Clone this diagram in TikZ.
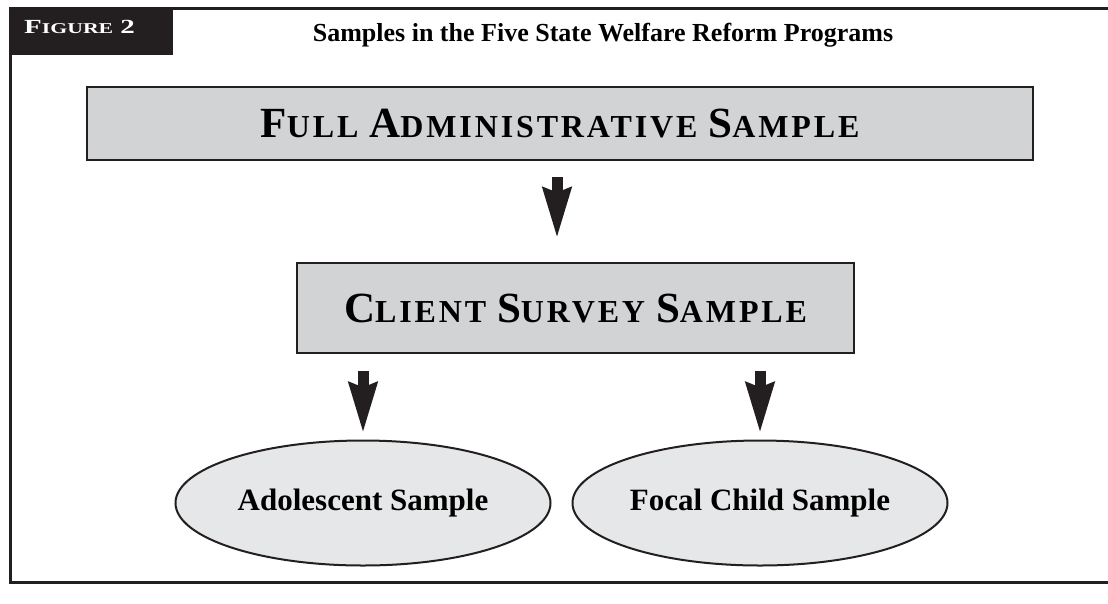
\documentclass[tikz,border=0pt]{standalone}
\usepackage{fontspec}
\usepackage{graphicx}
\setmainfont{Liberation Serif}
\newfontfamily\spacedserif[LetterSpace=9]{Liberation Serif}
\usetikzlibrary{arrows.meta,shapes.geometric}
\definecolor{ink}{HTML}{231F20}
\definecolor{boxgray}{HTML}{D1D3D4}
\definecolor{ellgray}{HTML}{E6E7E8}
\newcommand\capA[1]{{\fontsize{43pt}{43pt}\selectfont #1}}
\newcommand\capB[1]{{\fontsize{32pt}{32pt}\selectfont #1}}
\newcommand\figA[1]{{\fontsize{20pt}{20pt}\selectfont #1}}
\newcommand\figB[1]{{\fontsize{15pt}{15pt}\selectfont #1}}
\tikzset{
  bigbox/.style={draw=ink, line width=2.7pt, fill=boxgray, inner sep=0pt, font=\spacedserif\bfseries\fontsize{32pt}{32pt}\selectfont},
  sampell/.style={ellipse, draw=ink, line width=2pt, fill=ellgray, inner sep=0pt,
     minimum width=375pt, minimum height=125pt, font=\bfseries\fontsize{31pt}{31pt}\selectfont},
  flowarrow/.style={draw=ink, line width=11pt, -{Stealth[width=27pt,length=50pt,inset=4pt]}}
}
\begin{document}
\begin{tikzpicture}[x=1pt,y=-1pt]
\useasboundingbox (0,0) rectangle (1108,603);
% frame
\draw[ink, line width=3pt] (1108,8) -- (10,8) -- (10,582) -- (1108,582);
\node[fill=ink, anchor=north west, minimum width=163pt, minimum height=47pt, inner sep=0pt] (tab) at (10,8) {};
\node[text=white, font=\bfseries, anchor=base west, inner sep=0pt] (tablabel) at (24,33)
  {\scalebox{1.45}[1]{\figA{F}\figB{IGURE}\hspace{5pt}\figA{2}}};
\node[font=\bfseries\fontsize{26pt}{26pt}\selectfont, anchor=base] (title) at (603,41) {Samples in the Five State Welfare Reform Programs};
% boxes
\node[bigbox, minimum width=946pt, minimum height=73pt] (full) at (560,123.5)
  {\capA{F}\capB{ULL} \capA{A}\capB{DMINISTRATIVE} \capA{S}\capB{AMPLE}};
\node[bigbox, minimum width=557pt, minimum height=90pt] (client) at (575.5,308)
  {\capA{C}\capB{LIENT} \capA{S}\capB{URVEY} \capA{S}\capB{AMPLE}};
% ellipses
\node[sampell] (adol) at (363,503) {Adolescent Sample};
\node[sampell] (focal) at (760,503) {Focal Child Sample};
% arrows
\draw[flowarrow, shorten <=16pt, shorten >=23pt] (full.south -| 557,0) -- (client.north -| 557,0);
\draw[flowarrow, shorten <=17pt, shorten >=6pt] (adol.north |- client.south) -- (adol.north);
\draw[flowarrow, shorten <=17pt, shorten >=6pt] (focal.north |- client.south) -- (focal.north);
\end{tikzpicture}
\end{document}
